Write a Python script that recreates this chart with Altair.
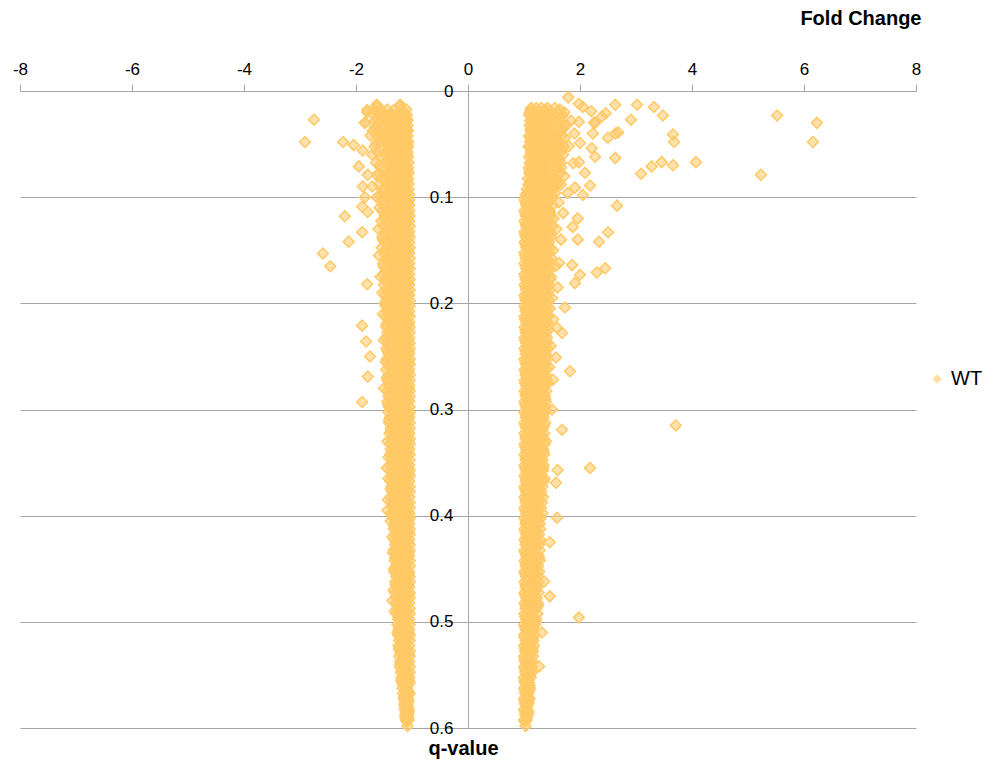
import altair as alt
import pandas as pd

# Axis ticks
X_TICKS = [-8, -6, -4, -2, 0, 2, 4, 6, 8]
Y_TICKS = [0, 0.1, 0.2, 0.3, 0.4, 0.5, 0.6]
SERIES = "WT"

# Down-regulated genes: (q-value, fold changes of the genes at that q-value)
DOWN_ROWS = [
    (0.014, [-1.63, -1.22]),
    (0.018, [-1.80, -1.55, -1.32, -1.18]),
    (0.022, [-1.70, -1.48, -1.38, -1.27, -1.15]),
    (0.026, [-1.62, -1.50, -1.41, -1.33, -1.24, -1.16, -1.10]),
    (0.030, [-1.84, -1.57, -1.45, -1.36, -1.29, -1.21, -1.13]),
    (0.034, [-1.66, -1.52, -1.40, -1.32, -1.25, -1.18, -1.11]),
    (0.038, [-1.60, -1.47, -1.37, -1.28, -1.21, -1.14, -1.09]),
    (0.042, [-1.74, -1.55, -1.43, -1.34, -1.26, -1.19, -1.12]),
    (0.046, [-1.50, -1.39, -1.30, -1.23, -1.16, -1.10]),
    (0.050, [-1.64, -1.46, -1.36, -1.28, -1.20, -1.13, -1.08]),
    (0.055, [-1.54, -1.42, -1.33, -1.25, -1.17, -1.11]),
    (0.060, [-1.71, -1.48, -1.38, -1.30, -1.22, -1.15, -1.09]),
    (0.065, [-1.44, -1.35, -1.27, -1.19, -1.12]),
    (0.070, [-1.58, -1.40, -1.31, -1.24, -1.17, -1.10]),
    (0.075, [-1.49, -1.37, -1.29, -1.21, -1.14, -1.08]),
    (0.080, [-1.62, -1.43, -1.33, -1.26, -1.18, -1.11]),
    (0.085, [-1.46, -1.38, -1.30, -1.22, -1.15, -1.09]),
    (0.090, [-1.71, -1.41, -1.34, -1.27, -1.19, -1.12]),
    (0.095, [-1.52, -1.39, -1.31, -1.24, -1.16, -1.09]),
    (0.100, [-1.63, -1.44, -1.36, -1.28, -1.20, -1.13, -1.08]),
    (0.105, [-1.47, -1.37, -1.29, -1.21, -1.14, -1.07]),
    (0.110, [-1.58, -1.41, -1.32, -1.25, -1.17, -1.10]),
    (0.115, [-1.44, -1.35, -1.27, -1.19, -1.12, -1.07]),
    (0.120, [-1.50, -1.39, -1.30, -1.22, -1.15, -1.08]),
    (0.125, [-1.43, -1.33, -1.26, -1.18, -1.11]),
    (0.130, [-1.60, -1.40, -1.31, -1.23, -1.16, -1.08]),
    (0.135, [-1.45, -1.36, -1.28, -1.20, -1.13, -1.07]),
    (0.140, [-1.52, -1.38, -1.30, -1.22, -1.14, -1.09]),
    (0.145, [-1.42, -1.34, -1.25, -1.17, -1.10]),
    (0.150, [-1.48, -1.37, -1.29, -1.21, -1.13, -1.07]),
    (0.155, [-1.59, -1.40, -1.32, -1.24, -1.16, -1.09]),
    (0.160, [-1.44, -1.35, -1.27, -1.19, -1.11]),
    (0.165, [-1.51, -1.38, -1.30, -1.22, -1.14, -1.07]),
    (0.170, [-1.43, -1.33, -1.25, -1.17, -1.10]),
    (0.175, [-1.56, -1.39, -1.31, -1.23, -1.15, -1.08]),
    (0.180, [-1.46, -1.36, -1.28, -1.20, -1.12, -1.07]),
    (0.185, [-1.41, -1.33, -1.24, -1.16, -1.09]),
    (0.190, [-1.53, -1.38, -1.30, -1.22, -1.14, -1.07]),
    (0.195, [-1.44, -1.34, -1.26, -1.18, -1.10]),
    (0.200, [-1.49, -1.37, -1.29, -1.21, -1.13, -1.07]),
    (0.205, [-1.42, -1.33, -1.25, -1.17, -1.09]),
    (0.210, [-1.52, -1.38, -1.30, -1.22, -1.14, -1.07]),
    (0.215, [-1.40, -1.32, -1.24, -1.16, -1.09]),
    (0.220, [-1.46, -1.35, -1.27, -1.19, -1.11, -1.06]),
    (0.225, [-1.39, -1.31, -1.23, -1.15, -1.08]),
    (0.230, [-1.43, -1.34, -1.26, -1.18, -1.10]),
    (0.235, [-1.50, -1.37, -1.29, -1.21, -1.13, -1.07]),
    (0.240, [-1.40, -1.32, -1.24, -1.16, -1.09]),
    (0.245, [-1.44, -1.35, -1.27, -1.19, -1.11, -1.06]),
    (0.250, [-1.38, -1.30, -1.22, -1.14, -1.08]),
    (0.255, [-1.47, -1.36, -1.28, -1.20, -1.12, -1.06]),
    (0.260, [-1.41, -1.33, -1.25, -1.17, -1.09]),
    (0.265, [-1.37, -1.29, -1.21, -1.13, -1.07]),
    (0.270, [-1.45, -1.34, -1.26, -1.18, -1.10]),
    (0.275, [-1.39, -1.31, -1.23, -1.15, -1.08]),
    (0.280, [-1.50, -1.36, -1.28, -1.20, -1.12, -1.06]),
    (0.285, [-1.40, -1.32, -1.24, -1.16, -1.09]),
    (0.290, [-1.37, -1.29, -1.21, -1.13, -1.07]),
    (0.295, [-1.43, -1.34, -1.26, -1.18, -1.10]),
    (0.300, [-1.38, -1.30, -1.22, -1.14, -1.08]),
    (0.305, [-1.35, -1.27, -1.19, -1.11, -1.06]),
    (0.310, [-1.41, -1.31, -1.23, -1.15, -1.08]),
    (0.315, [-1.34, -1.26, -1.18, -1.10]),
    (0.320, [-1.38, -1.29, -1.21, -1.13, -1.07]),
    (0.325, [-1.32, -1.24, -1.16, -1.09]),
    (0.330, [-1.44, -1.35, -1.27, -1.19, -1.11, -1.06]),
    (0.335, [-1.31, -1.23, -1.15, -1.08]),
    (0.340, [-1.36, -1.28, -1.20, -1.12, -1.07]),
    (0.345, [-1.42, -1.32, -1.24, -1.16, -1.09]),
    (0.350, [-1.34, -1.26, -1.18, -1.10]),
    (0.355, [-1.45, -1.30, -1.22, -1.14, -1.07]),
    (0.360, [-1.35, -1.27, -1.19, -1.11, -1.06]),
    (0.365, [-1.42, -1.31, -1.23, -1.15, -1.08]),
    (0.370, [-1.33, -1.25, -1.17, -1.09]),
    (0.375, [-1.38, -1.29, -1.21, -1.13, -1.07]),
    (0.380, [-1.32, -1.24, -1.16, -1.09]),
    (0.385, [-1.43, -1.34, -1.26, -1.18, -1.10]),
    (0.390, [-1.30, -1.22, -1.14, -1.07]),
    (0.395, [-1.44, -1.33, -1.25, -1.17, -1.09]),
    (0.400, [-1.36, -1.28, -1.20, -1.12, -1.06]),
    (0.405, [-1.38, -1.29, -1.21, -1.13, -1.07]),
    (0.410, [-1.32, -1.24, -1.16, -1.09]),
    (0.415, [-1.27, -1.19, -1.11, -1.06]),
    (0.420, [-1.35, -1.26, -1.18, -1.10]),
    (0.425, [-1.29, -1.21, -1.13, -1.07]),
    (0.430, [-1.25, -1.17, -1.09]),
    (0.435, [-1.34, -1.27, -1.19, -1.11, -1.06]),
    (0.440, [-1.30, -1.22, -1.14, -1.08]),
    (0.445, [-1.26, -1.18, -1.10]),
    (0.450, [-1.32, -1.24, -1.16, -1.09]),
    (0.455, [-1.28, -1.20, -1.12, -1.06]),
    (0.460, [-1.25, -1.17, -1.09]),
    (0.465, [-1.29, -1.21, -1.13, -1.07]),
    (0.470, [-1.33, -1.24, -1.16, -1.09]),
    (0.475, [-1.27, -1.19, -1.11, -1.06]),
    (0.480, [-1.35, -1.23, -1.15, -1.08]),
    (0.485, [-1.26, -1.18, -1.10]),
    (0.490, [-1.31, -1.22, -1.14, -1.07]),
    (0.495, [-1.25, -1.17, -1.09]),
    (0.500, [-1.21, -1.13, -1.07]),
    (0.505, [-1.23, -1.15, -1.08]),
    (0.510, [-1.26, -1.19, -1.11, -1.06]),
    (0.515, [-1.21, -1.13, -1.07]),
    (0.520, [-1.18, -1.10]),
    (0.525, [-1.23, -1.15, -1.08]),
    (0.530, [-1.20, -1.12, -1.06]),
    (0.535, [-1.17, -1.09]),
    (0.540, [-1.21, -1.13, -1.07]),
    (0.545, [-1.18, -1.10]),
    (0.550, [-1.16, -1.08]),
    (0.555, [-1.19, -1.12, -1.06]),
    (0.560, [-1.15, -1.08]),
    (0.565, [-1.13, -1.07]),
    (0.570, [-1.14, -1.08]),
    (0.575, [-1.12, -1.06]),
    (0.580, [-1.13, -1.07]),
    (0.585, [-1.11, -1.06]),
    (0.590, [-1.12, -1.07]),
    (0.594, [-1.09]),
    (0.598, [-1.08]),
]

# Further down-regulated genes lying between the rows above
DOWN_ROWS_2 = [
    (0.0175, [-1.68, -1.44, -1.10]),
    (0.0225, [-1.60, -1.35, -1.09]),
    (0.0275, [-1.66, -1.46, -1.08]),
    (0.0325, [-1.62, -1.38, -1.08]),
    (0.0375, [-1.70, -1.44, -1.07]),
    (0.0425, [-1.63, -1.36, -1.08]),
    (0.0475, [-1.58, -1.42, -1.07]),
    (0.0525, [-1.67, -1.35, -1.07]),
    (0.0575, [-1.61, -1.40, -1.08]),
    (0.0625, [-1.56, -1.34, -1.07]),
    (0.0675, [-1.64, -1.41, -1.06]),
    (0.0725, [-1.55, -1.35, -1.07]),
    (0.0775, [-1.60, -1.40, -1.06]),
    (0.0825, [-1.54, -1.33, -1.07]),
    (0.0875, [-1.58, -1.39, -1.06]),
    (0.0925, [-1.53, -1.34, -1.06]),
    (0.0975, [-1.57, -1.38, -1.05]),
    (0.1025, [-1.53, -1.33, -1.05]),
    (0.1075, [-1.50, -1.36, -1.05]),
    (0.1125, [-1.54, -1.31, -1.05]),
    (0.1175, [-1.49, -1.35, -1.04]),
    (0.1225, [-1.55, -1.32, -1.05]),
    (0.1275, [-1.51, -1.36, -1.04]),
    (0.1325, [-1.48, -1.31, -1.05]),
    (0.1375, [-1.53, -1.34, -1.04]),
    (0.1425, [-1.49, -1.30, -1.05]),
    (0.1475, [-1.54, -1.35, -1.04]),
    (0.1525, [-1.50, -1.31, -1.05]),
    (0.1575, [-1.47, -1.34, -1.04]),
    (0.1625, [-1.52, -1.30, -1.05]),
    (0.1675, [-1.48, -1.33, -1.04]),
    (0.1725, [-1.51, -1.29, -1.05]),
    (0.1775, [-1.47, -1.34, -1.04]),
    (0.1825, [-1.50, -1.30, -1.05]),
    (0.1875, [-1.46, -1.33, -1.04]),
    (0.1925, [-1.49, -1.29, -1.05]),
    (0.1975, [-1.46, -1.32, -1.04]),
    (0.2025, [-1.47, -1.28, -1.04]),
    (0.2075, [-1.44, -1.31, -1.05]),
    (0.2125, [-1.48, -1.27, -1.04]),
    (0.2175, [-1.43, -1.30, -1.05]),
    (0.2225, [-1.46, -1.26, -1.04]),
    (0.2275, [-1.44, -1.29, -1.04]),
    (0.2325, [-1.47, -1.27, -1.05]),
    (0.2375, [-1.43, -1.30, -1.04]),
    (0.2425, [-1.46, -1.26, -1.04]),
    (0.2475, [-1.42, -1.29, -1.05]),
    (0.2525, [-1.45, -1.27, -1.04]),
    (0.2575, [-1.43, -1.30, -1.04]),
    (0.2625, [-1.46, -1.26, -1.05]),
    (0.2675, [-1.42, -1.28, -1.04]),
    (0.2725, [-1.44, -1.25, -1.04]),
    (0.2775, [-1.41, -1.29, -1.05]),
    (0.2825, [-1.45, -1.26, -1.04]),
    (0.2875, [-1.42, -1.28, -1.04]),
    (0.2925, [-1.44, -1.25, -1.05]),
    (0.2975, [-1.41, -1.28, -1.04]),
    (0.3025, [-1.42, -1.24, -1.04]),
    (0.3075, [-1.39, -1.27, -1.05]),
    (0.3125, [-1.41, -1.23, -1.04]),
    (0.3175, [-1.38, -1.26, -1.04]),
    (0.3225, [-1.40, -1.22, -1.05]),
    (0.3275, [-1.37, -1.25, -1.04]),
    (0.3325, [-1.40, -1.23, -1.04]),
    (0.3375, [-1.38, -1.26, -1.05]),
    (0.3425, [-1.39, -1.22, -1.04]),
    (0.3475, [-1.37, -1.25, -1.04]),
    (0.3525, [-1.40, -1.23, -1.05]),
    (0.3575, [-1.38, -1.26, -1.04]),
    (0.3625, [-1.36, -1.22, -1.04]),
    (0.3675, [-1.39, -1.25, -1.05]),
    (0.3725, [-1.37, -1.23, -1.04]),
    (0.3775, [-1.35, -1.21, -1.04]),
    (0.3825, [-1.38, -1.24, -1.05]),
    (0.3875, [-1.36, -1.22, -1.04]),
    (0.3925, [-1.34, -1.20, -1.04]),
    (0.3975, [-1.37, -1.23, -1.05]),
    (0.4025, [-1.34, -1.20, -1.04]),
    (0.4075, [-1.31, -1.18, -1.05]),
    (0.4125, [-1.33, -1.21, -1.04]),
    (0.4175, [-1.30, -1.17, -1.04]),
    (0.4225, [-1.32, -1.20, -1.05]),
    (0.4275, [-1.30, -1.17, -1.04]),
    (0.4325, [-1.33, -1.19, -1.04]),
    (0.4375, [-1.29, -1.16, -1.05]),
    (0.4425, [-1.31, -1.19, -1.04]),
    (0.4475, [-1.29, -1.16, -1.04]),
    (0.4525, [-1.32, -1.18, -1.05]),
    (0.4575, [-1.28, -1.15, -1.04]),
    (0.4625, [-1.30, -1.18, -1.04]),
    (0.4675, [-1.28, -1.15, -1.05]),
    (0.4725, [-1.30, -1.17, -1.04]),
    (0.4775, [-1.27, -1.14, -1.04]),
    (0.4825, [-1.29, -1.17, -1.05]),
    (0.4875, [-1.27, -1.14, -1.04]),
    (0.4925, [-1.28, -1.16, -1.04]),
    (0.4975, [-1.25, -1.13, -1.05]),
    (0.5025, [-1.26, -1.15, -1.04]),
    (0.5075, [-1.24, -1.12, -1.05]),
    (0.5125, [-1.25, -1.14, -1.04]),
    (0.5175, [-1.23, -1.12, -1.04]),
    (0.5225, [-1.24, -1.14, -1.05]),
    (0.5275, [-1.22, -1.11, -1.04]),
    (0.5325, [-1.23, -1.13, -1.04]),
    (0.5375, [-1.21, -1.11, -1.05]),
    (0.5425, [-1.22, -1.12, -1.04]),
    (0.5475, [-1.20, -1.10, -1.04]),
    (0.5525, [-1.19, -1.11, -1.05]),
    (0.5575, [-1.18, -1.10, -1.04]),
    (0.5625, [-1.17, -1.09]),
    (0.5675, [-1.16, -1.08, -1.04]),
    (0.5725, [-1.15, -1.07]),
    (0.5775, [-1.14, -1.08]),
    (0.5825, [-1.13, -1.06]),
    (0.5875, [-1.12, -1.07]),
    (0.5925, [-1.11, -1.06]),
]

# Up-regulated genes: (q-value, fold changes of the genes at that q-value)
UP_ROWS = [
    (0.016, [1.13, 1.22, 1.31, 1.42, 1.55]),
    (0.020, [1.10, 1.18, 1.27, 1.36, 1.47, 1.60, 1.72]),
    (0.024, [1.14, 1.23, 1.32, 1.40, 1.51, 1.66]),
    (0.028, [1.11, 1.19, 1.28, 1.37, 1.45, 1.58, 1.84]),
    (0.032, [1.15, 1.24, 1.33, 1.48, 1.62, 1.76]),
    (0.036, [1.12, 1.20, 1.29, 1.38, 1.55, 1.69]),
    (0.040, [1.16, 1.25, 1.34, 1.43, 1.52, 1.61, 1.90]),
    (0.044, [1.11, 1.21, 1.30, 1.39, 1.57, 1.73]),
    (0.048, [1.14, 1.23, 1.32, 1.47, 1.64]),
    (0.052, [1.10, 1.19, 1.28, 1.37, 1.44, 1.53, 1.62, 1.80]),
    (0.056, [1.15, 1.24, 1.33, 1.42, 1.50, 1.59, 1.67]),
    (0.060, [1.12, 1.21, 1.30, 1.46, 1.56, 1.70]),
    (0.064, [1.16, 1.25, 1.34, 1.40, 1.52, 1.63]),
    (0.068, [1.11, 1.20, 1.29, 1.38, 1.48, 1.58, 1.88]),
    (0.072, [1.14, 1.23, 1.32, 1.55, 1.66]),
    (0.076, [1.10, 1.19, 1.28, 1.37, 1.45, 1.61]),
    (0.080, [1.15, 1.24, 1.33, 1.42, 1.51, 1.72]),
    (0.084, [1.12, 1.21, 1.30, 1.39, 1.48, 1.58]),
    (0.088, [1.08, 1.17, 1.26, 1.35, 1.44, 1.54, 1.66]),
    (0.092, [1.13, 1.22, 1.31, 1.40, 1.49]),
    (0.096, [1.06, 1.15, 1.24, 1.33, 1.43, 1.56, 1.78]),
    (0.100, [1.04, 1.11, 1.20, 1.29, 1.38]),
    (0.105, [1.03, 1.11, 1.19, 1.27, 1.35, 1.44, 1.62]),
    (0.110, [1.07, 1.15, 1.23, 1.31, 1.40]),
    (0.115, [1.02, 1.10, 1.18, 1.26, 1.34, 1.46, 1.70]),
    (0.120, [1.06, 1.14, 1.22, 1.30, 1.38, 1.53]),
    (0.125, [1.03, 1.11, 1.19, 1.27, 1.35, 1.43]),
    (0.130, [1.07, 1.15, 1.23, 1.31, 1.40, 1.58]),
    (0.135, [1.02, 1.10, 1.18, 1.26, 1.34, 1.47]),
    (0.140, [1.06, 1.14, 1.22, 1.30, 1.38, 1.66]),
    (0.145, [1.03, 1.11, 1.19, 1.27, 1.35, 1.42]),
    (0.150, [1.07, 1.15, 1.23, 1.31, 1.39, 1.52]),
    (0.155, [1.02, 1.10, 1.18, 1.26, 1.34]),
    (0.160, [1.06, 1.14, 1.22, 1.30, 1.37, 1.45]),
    (0.165, [1.03, 1.11, 1.19, 1.27, 1.35, 1.56]),
    (0.170, [1.07, 1.15, 1.23, 1.31, 1.41]),
    (0.175, [1.02, 1.10, 1.18, 1.26, 1.34, 1.48]),
    (0.180, [1.06, 1.14, 1.22, 1.30, 1.38]),
    (0.185, [1.03, 1.11, 1.19, 1.27, 1.35, 1.43, 1.60]),
    (0.190, [1.07, 1.15, 1.23, 1.31, 1.39]),
    (0.195, [1.02, 1.10, 1.18, 1.26, 1.34, 1.50]),
    (0.200, [1.06, 1.14, 1.22, 1.30, 1.40]),
    (0.205, [1.03, 1.11, 1.19, 1.27, 1.35, 1.46]),
    (0.210, [1.06, 1.14, 1.22, 1.30, 1.38]),
    (0.215, [1.02, 1.10, 1.18, 1.26, 1.34, 1.52]),
    (0.220, [1.05, 1.13, 1.21, 1.29, 1.37]),
    (0.225, [1.03, 1.11, 1.19, 1.27, 1.35, 1.44]),
    (0.230, [1.06, 1.14, 1.22, 1.30, 1.38]),
    (0.235, [1.02, 1.10, 1.18, 1.26, 1.34]),
    (0.240, [1.05, 1.13, 1.21, 1.29, 1.37, 1.48]),
    (0.245, [1.03, 1.11, 1.19, 1.27, 1.35]),
    (0.250, [1.06, 1.14, 1.22, 1.30, 1.40]),
    (0.255, [1.02, 1.10, 1.18, 1.26, 1.34]),
    (0.260, [1.05, 1.13, 1.21, 1.29, 1.37, 1.45]),
    (0.265, [1.03, 1.11, 1.19, 1.27, 1.35]),
    (0.270, [1.06, 1.14, 1.22, 1.30, 1.38]),
    (0.275, [1.02, 1.10, 1.18, 1.26, 1.34, 1.43]),
    (0.280, [1.05, 1.13, 1.21, 1.29, 1.36]),
    (0.285, [1.03, 1.11, 1.19, 1.27, 1.35]),
    (0.290, [1.06, 1.14, 1.22, 1.30, 1.38]),
    (0.295, [1.02, 1.10, 1.18, 1.26, 1.33]),
    (0.300, [1.05, 1.13, 1.21, 1.29, 1.37]),
    (0.305, [1.03, 1.11, 1.19, 1.27, 1.34]),
    (0.310, [1.06, 1.14, 1.22, 1.30]),
    (0.315, [1.02, 1.10, 1.18, 1.26, 1.36]),
    (0.320, [1.05, 1.13, 1.21, 1.29]),
    (0.325, [1.03, 1.11, 1.19, 1.27, 1.33]),
    (0.330, [1.06, 1.14, 1.22, 1.30, 1.39]),
    (0.335, [1.02, 1.10, 1.18, 1.26]),
    (0.340, [1.05, 1.13, 1.21, 1.29, 1.35]),
    (0.345, [1.03, 1.11, 1.19, 1.27]),
    (0.350, [1.06, 1.14, 1.22, 1.31]),
    (0.355, [1.02, 1.10, 1.18, 1.26, 1.34]),
    (0.360, [1.05, 1.13, 1.21, 1.28]),
    (0.365, [1.03, 1.11, 1.19, 1.27, 1.37]),
    (0.370, [1.06, 1.14, 1.22, 1.30]),
    (0.375, [1.02, 1.10, 1.18, 1.25]),
    (0.380, [1.05, 1.13, 1.21, 1.29]),
    (0.385, [1.03, 1.11, 1.19, 1.26]),
    (0.390, [1.06, 1.14, 1.22]),
    (0.395, [1.02, 1.10, 1.18, 1.25]),
    (0.400, [1.05, 1.13, 1.21, 1.28]),
    (0.405, [1.03, 1.11, 1.19, 1.25]),
    (0.410, [1.06, 1.14, 1.21]),
    (0.415, [1.02, 1.10, 1.18, 1.24]),
    (0.420, [1.05, 1.13, 1.20]),
    (0.425, [1.03, 1.11, 1.18, 1.26]),
    (0.430, [1.06, 1.14, 1.21]),
    (0.435, [1.02, 1.10, 1.17]),
    (0.440, [1.05, 1.13, 1.20, 1.27]),
    (0.445, [1.03, 1.11, 1.18]),
    (0.450, [1.06, 1.14, 1.21]),
    (0.455, [1.02, 1.10, 1.17, 1.24]),
    (0.460, [1.05, 1.13, 1.20]),
    (0.465, [1.03, 1.11, 1.18]),
    (0.470, [1.06, 1.14, 1.22]),
    (0.475, [1.02, 1.10, 1.17]),
    (0.480, [1.05, 1.13, 1.20]),
    (0.485, [1.03, 1.11, 1.19, 1.25]),
    (0.490, [1.06, 1.14]),
    (0.495, [1.02, 1.10, 1.17]),
    (0.500, [1.05, 1.13, 1.20]),
    (0.505, [1.02, 1.10, 1.16]),
    (0.510, [1.05, 1.13]),
    (0.515, [1.01, 1.09, 1.16]),
    (0.520, [1.04, 1.12]),
    (0.525, [1.02, 1.10, 1.15]),
    (0.530, [1.05, 1.12]),
    (0.535, [1.01, 1.09]),
    (0.540, [1.04, 1.12]),
    (0.545, [1.02, 1.10]),
    (0.550, [1.05, 1.11]),
    (0.555, [1.01, 1.08]),
    (0.560, [1.04, 1.10]),
    (0.565, [1.02, 1.09]),
    (0.570, [1.05]),
    (0.575, [1.01, 1.08]),
    (0.580, [1.04]),
    (0.585, [1.02, 1.08]),
    (0.590, [1.05]),
    (0.594, [1.02]),
    (0.598, [1.03]),
]

# Further up-regulated genes lying between the rows above
UP_ROWS_2 = [
    (0.0175, [1.12, 1.38, 1.64]),
    (0.0225, [1.09, 1.43, 1.69]),
    (0.0275, [1.13, 1.35, 1.62]),
    (0.0325, [1.10, 1.41, 1.70]),
    (0.0375, [1.12, 1.46, 1.64]),
    (0.0425, [1.09, 1.36, 1.67]),
    (0.0475, [1.11, 1.42, 1.58]),
    (0.0525, [1.08, 1.34, 1.71]),
    (0.0575, [1.12, 1.39, 1.63]),
    (0.0625, [1.09, 1.44, 1.60]),
    (0.0675, [1.11, 1.35, 1.66]),
    (0.0725, [1.08, 1.41, 1.59]),
    (0.0775, [1.10, 1.33, 1.64]),
    (0.0825, [1.07, 1.40, 1.55]),
    (0.0875, [1.10, 1.32, 1.60]),
    (0.0925, [1.05, 1.37, 1.53]),
    (0.0975, [1.03, 1.31, 1.49]),
    (0.1025, [1.01, 1.25, 1.47]),
    (0.1075, [1.04, 1.29, 1.51]),
    (0.1125, [1.01, 1.24, 1.46]),
    (0.1175, [1.03, 1.28, 1.49]),
    (0.1225, [1.01, 1.25, 1.45]),
    (0.1275, [1.04, 1.29, 1.50]),
    (0.1325, [1.01, 1.24, 1.46]),
    (0.1375, [1.03, 1.28, 1.48]),
    (0.1425, [1.01, 1.25, 1.45]),
    (0.1475, [1.04, 1.29, 1.47]),
    (0.1525, [1.01, 1.24, 1.44]),
    (0.1575, [1.03, 1.27, 1.49]),
    (0.1625, [1.01, 1.23, 1.45]),
    (0.1675, [1.04, 1.28, 1.46]),
    (0.1725, [1.01, 1.24, 1.43]),
    (0.1775, [1.03, 1.27, 1.47]),
    (0.1825, [1.01, 1.23, 1.44]),
    (0.1875, [1.04, 1.28, 1.46]),
    (0.1925, [1.01, 1.24, 1.42]),
    (0.1975, [1.03, 1.26, 1.45]),
    (0.2025, [1.01, 1.22, 1.42]),
    (0.2075, [1.03, 1.26, 1.40]),
    (0.2125, [1.01, 1.22, 1.43]),
    (0.2175, [1.04, 1.25, 1.41]),
    (0.2225, [1.01, 1.21, 1.42]),
    (0.2275, [1.03, 1.25, 1.39]),
    (0.2325, [1.01, 1.22, 1.41]),
    (0.2375, [1.04, 1.26, 1.40]),
    (0.2425, [1.01, 1.21, 1.42]),
    (0.2475, [1.03, 1.24, 1.39]),
    (0.2525, [1.01, 1.22, 1.41]),
    (0.2575, [1.04, 1.25, 1.38]),
    (0.2625, [1.01, 1.21, 1.40]),
    (0.2675, [1.03, 1.24, 1.39]),
    (0.2725, [1.01, 1.22, 1.41]),
    (0.2775, [1.04, 1.25, 1.38]),
    (0.2825, [1.01, 1.21, 1.40]),
    (0.2875, [1.03, 1.24, 1.37]),
    (0.2925, [1.01, 1.22, 1.39]),
    (0.2975, [1.04, 1.25, 1.38]),
    (0.3025, [1.01, 1.20, 1.37]),
    (0.3075, [1.03, 1.23, 1.35]),
    (0.3125, [1.01, 1.19, 1.38]),
    (0.3175, [1.04, 1.22, 1.34]),
    (0.3225, [1.01, 1.20, 1.36]),
    (0.3275, [1.03, 1.23, 1.35]),
    (0.3325, [1.01, 1.19, 1.37]),
    (0.3375, [1.04, 1.22, 1.34]),
    (0.3425, [1.01, 1.20, 1.36]),
    (0.3475, [1.03, 1.23, 1.33]),
    (0.3525, [1.01, 1.19, 1.35]),
    (0.3575, [1.04, 1.22, 1.34]),
    (0.3625, [1.01, 1.20, 1.32]),
    (0.3675, [1.03, 1.22, 1.35]),
    (0.3725, [1.01, 1.19, 1.33]),
    (0.3775, [1.04, 1.21, 1.31]),
    (0.3825, [1.01, 1.18, 1.34]),
    (0.3875, [1.03, 1.21, 1.32]),
    (0.3925, [1.01, 1.18, 1.30]),
    (0.3975, [1.04, 1.20, 1.33]),
    (0.4025, [1.01, 1.16, 1.30]),
    (0.4075, [1.03, 1.18, 1.28]),
    (0.4125, [1.01, 1.15, 1.29]),
    (0.4175, [1.04, 1.17, 1.27]),
    (0.4225, [1.01, 1.15, 1.29]),
    (0.4275, [1.03, 1.18, 1.27]),
    (0.4325, [1.01, 1.14, 1.28]),
    (0.4375, [1.04, 1.17, 1.26]),
    (0.4425, [1.01, 1.15, 1.28]),
    (0.4475, [1.03, 1.17, 1.25]),
    (0.4525, [1.01, 1.14, 1.27]),
    (0.4575, [1.04, 1.16, 1.25]),
    (0.4625, [1.01, 1.14, 1.26]),
    (0.4675, [1.03, 1.16, 1.24]),
    (0.4725, [1.01, 1.13, 1.26]),
    (0.4775, [1.04, 1.16, 1.23]),
    (0.4825, [1.01, 1.13, 1.25]),
    (0.4875, [1.03, 1.15, 1.22]),
    (0.4925, [1.01, 1.12, 1.24]),
    (0.4975, [1.04, 1.15, 1.22]),
    (0.5025, [1.00, 1.11, 1.20]),
    (0.5075, [1.03, 1.13, 1.18]),
    (0.5125, [1.00, 1.10, 1.19]),
    (0.5175, [1.03, 1.12, 1.17]),
    (0.5225, [1.00, 1.09, 1.18]),
    (0.5275, [1.02, 1.11, 1.16]),
    (0.5325, [1.00, 1.09, 1.16]),
    (0.5375, [1.02, 1.10, 1.15]),
    (0.5425, [1.00, 1.08, 1.14]),
    (0.5475, [1.02, 1.10, 1.14]),
    (0.5525, [1.00, 1.07, 1.12]),
    (0.5575, [1.02, 1.09]),
    (0.5625, [1.00, 1.07, 1.11]),
    (0.5675, [1.02, 1.08]),
    (0.5725, [1.00, 1.06, 1.10]),
    (0.5775, [1.02, 1.08]),
    (0.5825, [1.00, 1.06]),
    (0.5875, [1.02, 1.07]),
    (0.5925, [1.00, 1.05]),
]

# Genes lying away from the two main columns
DOWN_SPREAD_FC = [-2.75, -2.91, -2.23, -2.04, -1.88, -1.95, -1.79, -1.88, -1.84,
                  -1.89, -1.79, -2.20, -1.89, -2.13, -2.59, -2.46, -1.80, -1.89,
                  -1.82, -1.75, -1.79, -1.89, -1.63, -1.80, -1.21, -1.54, -1.84]
DOWN_SPREAD_Q = [0.027, 0.048, 0.048, 0.051, 0.056, 0.071, 0.079, 0.090, 0.100,
                 0.109, 0.114, 0.118, 0.133, 0.142, 0.153, 0.165, 0.182, 0.221,
                 0.236, 0.250, 0.269, 0.293, 0.013, 0.020, 0.013, 0.020, 0.030]

UP_SPREAD_FC = [1.79, 2.63, 3.02, 3.32, 3.48, 2.91, 2.46, 2.39, 2.27, 2.63,
                2.68, 2.50, 3.66, 3.68, 2.63, 3.09, 3.28, 3.46, 3.66, 4.07,
                2.66, 2.50, 2.34, 2.45, 2.30, 5.52, 6.23, 6.16, 5.23,
                1.82, 1.68, 3.71, 2.18, 1.60, 1.57, 1.59, 1.46, 1.46, 1.36,
                1.98, 1.32, 1.27, 1.68, 1.59, 1.57, 1.52, 1.50,
                1.96, 1.87, 1.96, 1.86, 2.00, 1.91, 1.73, 1.63,
                1.98, 2.05, 2.20, 1.98, 2.25, 2.23, 2.00, 2.21, 2.27, 1.98,
                2.09, 2.18, 1.91, 2.05]
UP_SPREAD_Q = [0.006, 0.013, 0.013, 0.015, 0.023, 0.027, 0.021, 0.024, 0.030, 0.040,
               0.039, 0.044, 0.041, 0.048, 0.063, 0.078, 0.071, 0.067, 0.070, 0.067,
               0.108, 0.133, 0.142, 0.167, 0.171, 0.023, 0.030, 0.048, 0.079,
               0.264, 0.319, 0.315, 0.355, 0.357, 0.369, 0.402, 0.425, 0.476, 0.462,
               0.496, 0.510, 0.542, 0.228, 0.223, 0.251, 0.272, 0.300,
               0.120, 0.128, 0.140, 0.164, 0.173, 0.181, 0.204, 0.162,
               0.012, 0.015, 0.019, 0.029, 0.030, 0.040, 0.049, 0.054, 0.062, 0.067,
               0.077, 0.089, 0.091, 0.098]

records = []
for q, fcs in DOWN_ROWS + DOWN_ROWS_2 + UP_ROWS + UP_ROWS_2:
    for fc in fcs:
        records.append({"fc": fc, "q": q, "series": SERIES})
for fcs, qs in ((DOWN_SPREAD_FC, DOWN_SPREAD_Q), (UP_SPREAD_FC, UP_SPREAD_Q)):
    for fc, q in zip(fcs, qs):
        records.append({"fc": fc, "q": q, "series": SERIES})
df = pd.DataFrame(records)

FONT = "Liberation Sans"
GRID = "#A6A6A6"
ORANGE = "#FFC966"

points = alt.Chart(df).mark_point(
    shape="diamond",
    filled=True,
    size=120,
    fillOpacity=0.55,
    stroke=ORANGE,
    strokeOpacity=1,
    strokeWidth=1.5,
).encode(
    x=alt.X(
        "fc:Q",
        scale=alt.Scale(domain=[-8, 8], nice=False, zero=False),
        axis=alt.Axis(
            orient="top",
            values=X_TICKS,
            labelExpr="'' + datum.value",
            grid=False,
            domainColor=GRID,
            tickColor=GRID,
            tickSize=7,
            labelPadding=6,
            labelFlush=False,
            labelFontSize=17,
            labelColor="#000000",
            labelFont=FONT,
            title="Fold Change",
            titleFont=FONT,
            titleFontSize=20,
            titleFontWeight="bold",
            titleColor="#000000",
            titleAngle=0,
            titleAlign="right",
            titleBaseline="middle",
            titleX=901,
            titleY=-73,
        ),
    ),
    y=alt.Y(
        "q:Q",
        scale=alt.Scale(domain=[0, 0.6], reverse=True, nice=False, zero=False),
        axis=alt.Axis(
            orient="left",
            offset=-448,
            values=Y_TICKS,
            labelExpr="'' + datum.value",
            grid=True,
            gridColor=GRID,
            gridWidth=1,
            domainColor=GRID,
            ticks=False,
            labelPadding=15,
            labelFlush=False,
            labelFontSize=17,
            labelColor="#000000",
            labelFont=FONT,
            title="q-value",
            titleFont=FONT,
            titleFontSize=20,
            titleFontWeight="bold",
            titleColor="#000000",
            titleAngle=0,
            titleAlign="center",
            titleBaseline="middle",
            titleX=-5,
            titleY=657,
        ),
    ),
    fill=alt.Fill(
        "series:N",
        scale=alt.Scale(domain=[SERIES], range=[ORANGE]),
        legend=alt.Legend(
            title=None,
            orient="none",
            legendX=907,
            legendY=278,
            padding=0,
            symbolType="diamond",
            symbolSize=90,
            symbolOpacity=0.6,
            symbolStrokeWidth=0,
            labelFont=FONT,
            labelFontSize=20,
            labelColor="#000000",
            labelOffset=4,
        ),
    ),
)

chart = points.properties(
    width=896,
    height=637,
    autosize=alt.AutoSizeParams(type="none"),
    padding={"left": 20, "top": 91, "right": 68, "bottom": 35},
    background="#FFFFFF",
).configure_view(stroke=None)

chart.save("out.html", embed_options={"renderer": "svg", "actions": False})
